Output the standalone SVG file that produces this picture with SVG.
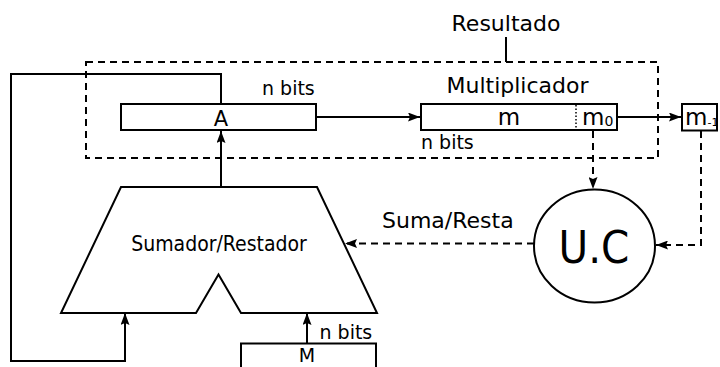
<svg xmlns="http://www.w3.org/2000/svg" width="720" height="367" viewBox="0 0 720 367">
<style>
  .ln{fill:none;stroke:#000;stroke-width:2}
  .dash{fill:none;stroke:#000;stroke-width:2;stroke-dasharray:7,5}
  .dot{fill:none;stroke:#000;stroke-width:1.5;stroke-dasharray:1.5,2}
  .box{fill:#fff;stroke:#000;stroke-width:2}
  .t{font-family:"DejaVu Sans","Liberation Sans",sans-serif;fill:#000}
  .c{font-family:"DejaVu Sans Condensed","DejaVu Sans","Liberation Sans Narrow",sans-serif;fill:#000}
</style>
<defs>
  <marker id="ah" viewBox="0 0 12 9" refX="12" refY="4.5" markerWidth="12" markerHeight="9" markerUnits="userSpaceOnUse" orient="auto">
    <path d="M0,0 L12,4.5 L0,9 L2,4.5 z" fill="#000"/>
  </marker>
</defs>
<rect width="720" height="367" fill="#fff"/>

<g id="resultado">
  <rect class="dash" x="86" y="62" width="572" height="96"/>
  <line class="ln" x1="506" y1="37" x2="506" y2="62"/>
  <text class="t" x="506" y="31" font-size="22" text-anchor="middle">Resultado</text>
</g>

<g id="connectors">
  <polyline class="ln" points="221,104 221,74 11,74 11,361 125,361 125,313" marker-end="url(#ah)"/>
  <line class="ln" x1="221" y1="187" x2="221" y2="131" marker-end="url(#ah)"/>
  <line class="ln" x1="316" y1="117" x2="420" y2="117" marker-end="url(#ah)"/>
  <line class="ln" x1="617" y1="117" x2="681" y2="117" marker-end="url(#ah)"/>
  <line class="ln" x1="307" y1="343" x2="307" y2="313" marker-end="url(#ah)"/>
  <line class="dash" x1="593" y1="131" x2="593" y2="189" marker-end="url(#ah)"/>
  <polyline class="dash" points="701,131 701,245 656,245" marker-end="url(#ah)"/>
  <line class="dash" x1="534" y1="243.5" x2="345" y2="243.5" marker-end="url(#ah)"/>
</g>

<g id="A">
  <rect class="box" x="121" y="104" width="195" height="26"/>
  <text class="t" x="221" y="125.5" font-size="21" text-anchor="middle">A</text>
  <text class="t" x="262" y="95" font-size="19">n bits</text>
</g>

<g id="multiplicador">
  <rect class="box" x="421" y="104" width="196" height="26"/>
  <line class="dot" x1="576" y1="105" x2="576" y2="129"/>
  <text class="t" x="509" y="125" font-size="23" text-anchor="middle">m</text>
  <text class="t" x="582" y="125" font-size="23">m<tspan font-size="14" dy="1">0</tspan></text>
  <text class="t" x="517.5" y="92.5" font-size="22" text-anchor="middle">Multiplicador</text>
  <text class="t" x="421" y="149" font-size="19">n bits</text>
</g>

<g id="m-1">
  <rect class="box" x="682" y="104" width="35" height="26.5"/>
  <text class="t" x="685" y="125" font-size="23">m<tspan font-size="11" dy="1">-1</tspan></text>
</g>

<g id="sumador">
  <path class="box" d="M121,187 L317,187 L377,313 L241,313 L218.5,274.5 L196,313 L61,313 Z"/>
  <text class="c" x="219" y="251" font-size="21" text-anchor="middle">Sumador/Restador</text>
  <text class="t" x="382" y="228" font-size="22">Suma/Resta</text>
</g>

<g id="UC">
  <ellipse class="box" cx="594.5" cy="246" rx="60.5" ry="56.5"/>
  <text class="c" x="594" y="262.5" font-size="45" text-anchor="middle">U.C</text>
</g>

<g id="M">
  <rect class="box" x="241" y="343.5" width="135" height="30"/>
  <text class="t" x="307" y="362" font-size="19" text-anchor="middle">M</text>
  <text class="t" x="319.5" y="339" font-size="19">n bits</text>
</g>
</svg>
